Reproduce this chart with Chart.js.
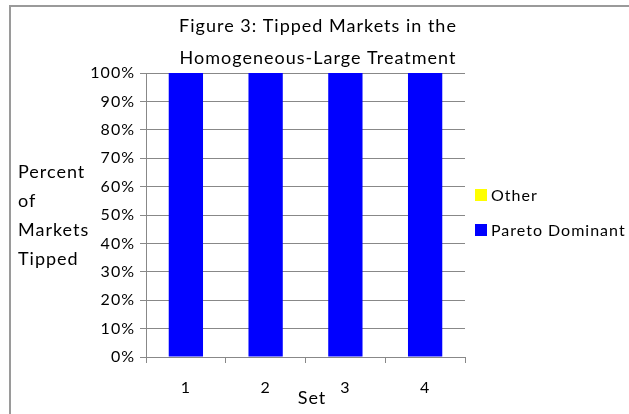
<!DOCTYPE html>
<html>
<head>
<meta charset="utf-8">
<script src="https://cdn.jsdelivr.net/npm/chart.js@4/dist/chart.umd.min.js"></script>
<style>
html,body{margin:0;padding:0;background:#fff;}
#wrap{width:629px;height:414px;position:relative;}
</style>
</head>
<body>
<div id="wrap"><canvas id="c"></canvas></div>
<script>
const categories = ['1', '2', '3', '4'];
const paretoDominant = [100, 100, 100, 100];
const other = [0, 0, 0, 0];
const titleLines = ['Figure 3: Tipped Markets in the', 'Homogeneous-Large Treatment'];
const yTitleLines = ['Percent', 'of', 'Markets', 'Tipped'];
const xTitle = 'Set';

const FONT = 'Lato, "Open Sans", sans-serif';

const decor = {
  id: 'decor',
  beforeDraw(chart) {
    const ctx = chart.ctx;
    ctx.letterSpacing = '1px';
    ctx.save();
    ctx.fillStyle = '#fff';
    ctx.fillRect(0, 0, chart.width, chart.height);
    ctx.strokeStyle = '#9a9a9a';
    ctx.lineWidth = 2;
    ctx.strokeRect(10, 6, 640, 430);
    ctx.restore();
  },
  afterDraw(chart) {
    const ctx = chart.ctx;
    ctx.save();
    ctx.letterSpacing = '1px';
    ctx.fillStyle = '#000';
    ctx.textBaseline = 'middle';
    ctx.font = '18px ' + FONT;
    ctx.textAlign = 'center';
    ctx.fillText(titleLines[0], 318, 26);
    ctx.fillText(titleLines[1], 318, 58);
    ctx.textAlign = 'left';
    yTitleLines.forEach((t, i) => ctx.fillText(t, 18, 172 + i * 29));
    ctx.textAlign = 'center';
    ctx.fillText(xTitle, 312, 398);
    // legend
    ctx.font = '16px ' + FONT;
    ctx.textAlign = 'left';
    const items = [chart.data.datasets[1], chart.data.datasets[0]];
    items.forEach((ds, i) => {
      const y = 195 + i * 35;
      ctx.fillStyle = ds.backgroundColor;
      ctx.fillRect(475, y - 6, 12, 12);
      ctx.fillStyle = '#000';
      ctx.fillText(ds.label, 491, y + 1);
    });
    ctx.restore();
  }
};

new Chart(document.getElementById('c'), {
  type: 'bar',
  data: {
    labels: categories,
    datasets: [
      { label: 'Pareto Dominant', data: paretoDominant, backgroundColor: '#0000ff', categoryPercentage: 1, barPercentage: 0.43 },
      { label: 'Other', data: other, backgroundColor: '#ffff00', categoryPercentage: 1, barPercentage: 0.43 }
    ]
  },
  options: {
    responsive: true,
    maintainAspectRatio: false,
    animation: false,
    devicePixelRatio: 1,
    layout: { padding: { left: 0, right: 164, top: 73, bottom: 0 } },
    plugins: { legend: { display: false }, title: { display: false }, tooltip: { enabled: false } },
    scales: {
      x: {
        stacked: true,
        afterFit(s) { s.height = 57; },
        grid: { offset: true, drawOnChartArea: false, drawTicks: true, tickLength: 6, color: '#888' },
        border: { display: true, color: '#888' },
        ticks: { color: '#000', font: { family: FONT, size: 16 }, padding: 15 }
      },
      y: {
        stacked: true,
        min: 0, max: 100,
        afterFit(s) { s.width = 146; },
        afterBuildTicks(s) { s.ticks = [0,10,20,30,40,50,60,70,80,90,100].map(v => ({ value: v })); },
        grid: { color: '#888', tickLength: 6, drawTicks: true },
        border: { display: true, color: '#888' },
        ticks: { color: '#000', font: { family: FONT, size: 16 }, padding: 5, callback: v => v + '%' }
      }
    }
  },
  plugins: [decor]
});
</script>
</body>
</html>
